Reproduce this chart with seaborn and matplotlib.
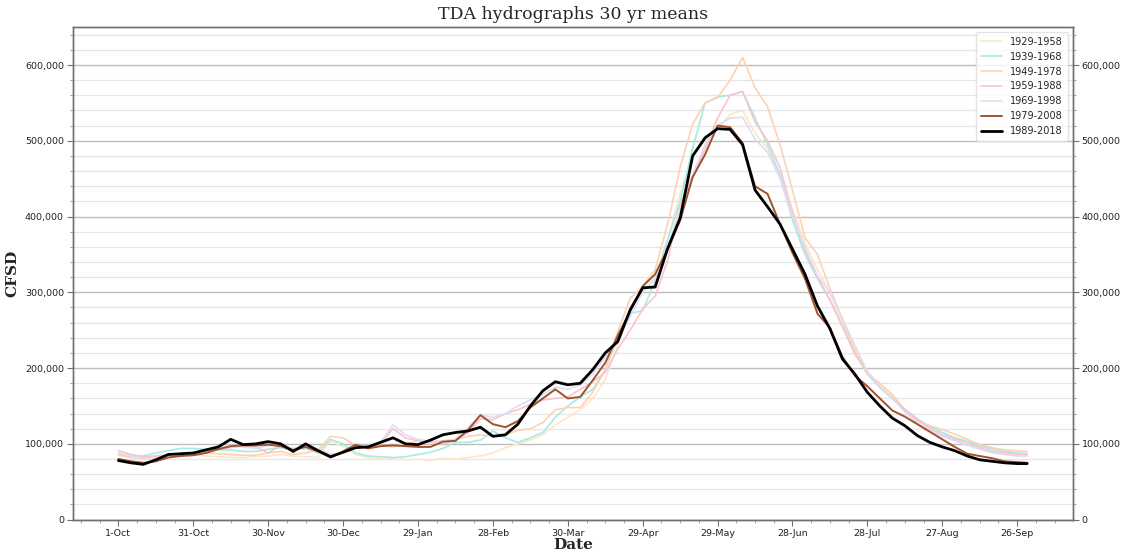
import matplotlib
matplotlib.use("Agg")
import pandas as pd
import matplotlib.pyplot as plt
import seaborn as sns
from matplotlib.ticker import MultipleLocator, FuncFormatter

sns.set_theme(style="white")
plt.rcParams['font.family'] = ['DejaVu Sans']

# Day of water year (0 = 1 Oct), sampled every 5 days
DAYS = list(range(0, 361, 5)) + [364]

TICK_DAYS = list(range(0, 361, 30))
TICK_LABELS = ['1-Oct', '31-Oct', '30-Nov', '30-Dec', '29-Jan', '28-Feb', '30-Mar',
               '29-Apr', '29-May', '28-Jun', '28-Jul', '27-Aug', '26-Sep']

PERIODS = ['1929-1958', '1939-1968', '1949-1978', '1959-1988',
           '1969-1998', '1979-2008', '1989-2018']

# 30 yr mean flows, thousand CFSD
Q_1929 = [85, 82, 82, 84, 86, 87, 86, 84, 83, 82,
          82, 83, 84, 86, 84, 83, 82, 104, 96, 86,
          82, 80, 80, 79, 80, 78, 81, 80, 82, 84,
          88, 95, 100, 105, 112, 125, 135, 145, 160, 185,
          230, 280, 300, 320, 370, 430, 480, 500, 515, 535,
          540, 510, 490, 455, 410, 365, 330, 300, 260, 225,
          195, 178, 162, 145, 132, 122, 115, 108, 104, 98,
          93, 90, 88, 87]
Q_1939 = [87, 84, 84, 88, 91, 94, 94, 93, 92, 92,
          90, 90, 93, 95, 92, 94, 88, 106, 100, 88,
          84, 83, 82, 83, 86, 89, 94, 102, 102, 105,
          117, 108, 102, 108, 115, 135, 150, 162, 172, 198,
          240, 272, 276, 315, 370, 420, 490, 550, 558, 560,
          565, 530, 495, 455, 395, 350, 318, 290, 255, 220,
          192, 174, 160, 146, 133, 123, 115, 108, 103, 97,
          93, 90, 88, 87]
Q_1949 = [86, 82, 82, 83, 84, 86, 88, 88, 87, 86,
          85, 85, 88, 90, 86, 88, 92, 110, 108, 98,
          96, 98, 96, 100, 104, 103, 104, 106, 110, 112,
          110, 112, 118, 120, 128, 145, 148, 148, 168, 198,
          248, 292, 308, 330, 390, 465, 522, 550, 557, 580,
          610, 570, 545, 495, 435, 372, 350, 305, 265, 222,
          192, 180, 165, 145, 130, 124, 119, 113, 106, 99,
          95, 92, 91, 90]
Q_1959 = [91, 86, 83, 84, 85, 87, 88, 90, 93, 95,
          97, 96, 88, 98, 93, 96, 92, 86, 88, 95,
          97, 100, 120, 108, 104, 102, 100, 105, 115, 133,
          132, 140, 145, 152, 158, 160, 162, 172, 182, 194,
          225, 250, 278, 295, 342, 415, 452, 489, 530, 560,
          565, 525, 500, 465, 405, 355, 320, 290, 255, 218,
          195, 175, 160, 145, 132, 120, 112, 106, 100, 95,
          90, 88, 86, 85]
Q_1969 = [88, 84, 80, 80, 83, 86, 88, 92, 95, 98,
          96, 94, 98, 100, 94, 97, 92, 86, 88, 94,
          98, 102, 125, 112, 106, 103, 104, 106, 122, 138,
          135, 140, 150, 158, 165, 175, 172, 178, 192, 215,
          238, 268, 300, 318, 360, 410, 455, 495, 520, 530,
          531, 502, 485, 450, 400, 360, 322, 300, 265, 230,
          195, 175, 160, 142, 128, 118, 110, 104, 98, 93,
          88, 86, 84, 84]
Q_1979 = [80, 77, 75, 77, 82, 84, 85, 88, 93, 97,
          98, 98, 99, 97, 92, 96, 90, 82, 90, 99,
          94, 97, 98, 97, 96, 96, 103, 104, 118, 138,
          126, 122, 130, 148, 160, 172, 160, 162, 184, 207,
          243, 275, 308, 324, 357, 395, 452, 482, 520, 518,
          497, 440, 430, 390, 352, 318, 272, 253, 215, 190,
          176, 160, 144, 136, 126, 116, 106, 96, 87, 84,
          81, 77, 76, 75]
Q_1989 = [78, 75, 73, 79, 86, 87, 88, 92, 96, 106,
          99, 100, 103, 100, 90, 100, 91, 83, 89, 95,
          96, 102, 108, 100, 99, 105, 112, 115, 117, 122,
          110, 112, 126, 150, 170, 182, 178, 180, 198, 220,
          235, 277, 306, 307, 358, 398, 480, 504, 516, 515,
          495, 435, 413, 390, 357, 324, 282, 252, 212, 192,
          168, 150, 134, 124, 111, 102, 96, 91, 84, 79,
          77, 75, 74, 74]

SERIES = [Q_1929, Q_1939, Q_1949, Q_1959, Q_1969, Q_1979, Q_1989]
COLORS = ['#fde6c8', '#a6ebe4', '#fdd2b2', '#fbc3cb', '#e0dcf8', '#a0522d', 'black']
WIDTHS = [1.2, 1.2, 1.2, 1.2, 1.2, 1.4, 2.0]


def main():
    fig, ax = plt.subplots(figsize=(11.22, 5.54), dpi=100)
    fig.subplots_adjust(left=0.065, right=0.956, top=0.951, bottom=0.062)

    for label, vals, color, lw in zip(PERIODS, SERIES, COLORS, WIDTHS):
        df = pd.DataFrame({'day': DAYS, 'cfsd': [v * 1000 for v in vals]})
        sns.lineplot(data=df, x='day', y='cfsd', ax=ax, color=color,
                     linewidth=lw, label=label)

    ax.set_xlim(-18.2, 382.2)
    ax.set_ylim(0, 650000)
    ax.set_xticks(TICK_DAYS)
    ax.set_xticklabels(TICK_LABELS)
    ax.xaxis.set_minor_locator(MultipleLocator(7.5))
    ax.yaxis.set_major_locator(MultipleLocator(100000))
    ax.yaxis.set_minor_locator(MultipleLocator(20000))
    fmt = FuncFormatter(lambda v, p: f'{v:,.0f}')
    ax.yaxis.set_major_formatter(fmt)

    ax.set_axisbelow(True)
    ax.grid(which='major', axis='y', color='#bdbdbd', linewidth=1.0)
    ax.grid(which='minor', axis='y', color='#e6e6e6', linewidth=0.9)
    ax.grid(which='both', axis='x', visible=False)

    # Twin axis on the right with the same scale
    ax2 = ax.twinx()
    ax2.set_ylim(ax.get_ylim())
    ax2.yaxis.set_major_locator(MultipleLocator(100000))
    ax2.yaxis.set_minor_locator(MultipleLocator(20000))
    ax2.yaxis.set_major_formatter(fmt)
    ax2.grid(False)

    for a in (ax, ax2):
        for sp in a.spines.values():
            sp.set_color('#707070')
            sp.set_linewidth(1.0)
        a.tick_params(which='major', direction='out', length=4, width=0.8,
                      color='#707070', labelsize=6.8, labelcolor='#222222', pad=2.5)
        a.tick_params(which='minor', direction='out', length=2, width=0.6,
                      color='#909090')
    ax.tick_params(which='both', bottom=True, left=True)
    ax2.tick_params(which='both', right=True)

    ax.set_title('TDA hydrographs 30 yr means', fontsize=12.5,
                 family='DejaVu Serif', pad=6)
    ax.set_xlabel('Date', fontsize=11, fontweight='bold', family='DejaVu Serif',
                  labelpad=0)
    ax.set_ylabel('CFSD', fontsize=11, fontweight='bold', family='DejaVu Serif',
                  labelpad=4)

    leg = ax.legend(loc='upper right', fontsize=7, frameon=True,
                    handlelength=2.2, labelspacing=0.5, borderpad=0.5)
    leg.get_frame().set_edgecolor('#dddddd')

    fig.savefig('out.png', dpi=100)
    plt.close(fig)


if __name__ == "__main__":
    main()
